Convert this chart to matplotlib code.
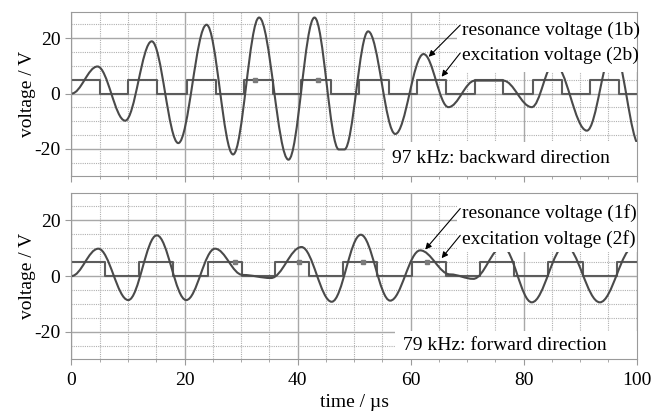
import matplotlib
matplotlib.use('Agg')
import matplotlib.pyplot as plt
from matplotlib.path import Path
from matplotlib.patches import PathPatch, Rectangle
from matplotlib.ticker import MultipleLocator

plt.rcParams['font.family'] = ['Liberation Serif', 'DejaVu Serif']
plt.rcParams['axes.unicode_minus'] = False

# ---------------- data ----------------
# 97 kHz backward: resonance voltage (1b) extrema / turning points (time in us, voltage in V)
res_b_t = [0.0, 4.6, 9.5, 14.2, 18.9, 23.9, 28.6, 33.2, 38.4, 43.0, 47.3, 48.3,
           52.5, 57.3, 62.3, 66.7, 71.4, 76.4, 81.45, 85.4, 91.2, 95.9, 100.6]
res_b_v = [0.0, 9.8, -9.8, 18.9, -17.9, 24.9, -22.0, 27.5, -23.9, 27.5, -20.2, -20.2,
           22.5, -14.6, 14.3, -4.9, 4.7, 4.7, -4.9, 11.0, -13.4, 16.5, -19.0]
# excitation voltage (2b): switching times and level after each switch
exc_b_t = [0.0, 0.0, 5.0, 10.05, 15.1, 20.4, 25.5, 30.6, 35.7, 40.7, 45.9, 50.9,
           56.1, 61.1, 66.3, 71.4, 76.4, 81.7, 86.8, 91.8, 96.8, 100.0]
exc_b_v = [0, 5, 0, 5, 0, 5, 0, 5, 0, 5, 0, 5, 0, 5, 0, 5, 0, 5, 0, 5, 0, 0]
mark_b_t = [32.5, 43.6]
mark_b_v = [5.0, 5.0]

# 79 kHz forward: resonance voltage (1f)
res_f_t = [0.0, 4.75, 10.05, 15.1, 20.3, 25.4, 30.3, 35.3, 40.7, 46.05, 51.2,
           56.4, 61.7, 67.0, 71.1, 76.3, 81.45, 87.35, 93.5, 99.5, 100.5]
res_f_v = [0.0, 9.8, -8.6, 14.6, -8.6, 9.8, 0.4, -0.7, 10.4, -9.2, 14.8,
           -8.8, 9.2, 0.6, -1.0, 10.5, -9.4, 11.0, -9.4, 10.5, 10.3]
# excitation voltage (2f)
exc_f_t = [0.0, 0.0, 5.93, 11.95, 18.0, 24.1, 30.1, 36.0, 42.1, 48.1, 54.0,
           60.2, 66.3, 72.3, 78.3, 84.4, 90.5, 96.5, 100.0]
exc_f_v = [0, 5, 0, 5, 0, 5, 0, 5, 0, 5, 0, 5, 0, 5, 0, 5, 0, 5, 5]
mark_f_t = [28.9, 40.3, 51.5, 62.9]
mark_f_v = [5.0, 5.0, 5.0, 5.0]

x_ticks = [0, 20, 40, 60, 80, 100]
y_ticks = [-20, 0, 20]

RES_COLOR = '#4a4a4a'
EXC_COLOR = '#5c5c5c'


def smooth_path(ts, vs, k=0.3634):
    verts = [(ts[0], vs[0])]
    codes = [Path.MOVETO]
    for i in range(1, len(ts)):
        t0, v0, t1, v1 = ts[i - 1], vs[i - 1], ts[i], vs[i]
        dt = t1 - t0
        verts += [(t0 + k * dt, v0), (t1 - k * dt, v1), (t1, v1)]
        codes += [Path.CURVE4] * 3
    return Path(verts, codes)


def setup(ax, show_labels):
    ax.set_xlim(0, 100)
    ax.set_ylim(-29.7, 29.6)
    ax.set_xticks(x_ticks)
    ax.set_yticks(y_ticks)
    ax.xaxis.set_minor_locator(MultipleLocator(5))
    ax.yaxis.set_minor_locator(MultipleLocator(5))
    ax.grid(which='major', color='#a8a8a8', lw=1.0, ls='-')
    ax.grid(which='minor', color='#b0b0b0', lw=0.8, ls=(0, (1, 1)))
    ax.set_axisbelow(True)
    ax.tick_params(axis='y', which='minor', length=0)
    ax.tick_params(axis='x', which='minor', length=2.5, color='#9a9a9a')
    ax.tick_params(which='major', length=4, color='#9a9a9a', labelsize=14)
    ax.tick_params(axis='y', pad=4)
    ax.tick_params(axis='x', pad=5)
    if not show_labels:
        ax.tick_params(axis='x', labelbottom=False)
    for s in ax.spines.values():
        s.set_color('#9a9a9a')
        s.set_zorder(6)
    ax.set_ylabel('voltage / V', fontsize=14, labelpad=-1)


fig = plt.figure(figsize=(6.68, 4.12), dpi=100)
ax1 = fig.add_axes([0.107, 0.5735, 0.846, 0.398])
ax2 = fig.add_axes([0.107, 0.1286, 0.846, 0.402])

panels = [
    (ax1, res_b_t, res_b_v, exc_b_t, exc_b_v, mark_b_t, mark_b_v,
     '97 kHz: backward direction', '(1b)', '(2b)', False),
    (ax2, res_f_t, res_f_v, exc_f_t, exc_f_v, mark_f_t, mark_f_v,
     '79 kHz: forward direction', '(1f)', '(2f)', True),
]

layout = {
    ax1: dict(box=(55.5, -17.6), dtext=(56.8, -23.3), lbox=(68.2, 7.8),
              rtext=23.0, etext=13.95,
              rarrow=((68.8, 24.8), (63.2, 13.3)), earrow=((68.8, 14.7), (65.5, 6.1))),
    ax2: dict(box=(57.3, -19.6), dtext=(58.7, -25.0), lbox=(68.2, 8.6),
              rtext=22.4, etext=13.4,
              rarrow=((68.8, 24.2), (62.6, 9.5)), earrow=((68.8, 14.6), (65.5, 6.4))),
}

for ax, rt, rv, et, ev, mt, mv, dtxt, rlab, elab, show in panels:
    setup(ax, show)
    ax.step(et, ev, where='post', color=EXC_COLOR, lw=1.5, zorder=3)
    ax.add_patch(PathPatch(smooth_path(rt, rv), fill=False, edgecolor=RES_COLOR,
                           lw=1.5, zorder=4))
    ax.plot(mt, mv, ls='none', marker='s', ms=3, color='#7a7a7a', zorder=4)
    L = layout[ax]
    y0 = ax.get_ylim()[0]
    y1 = ax.get_ylim()[1]
    bx, by = L['box']
    ax.add_patch(Rectangle((bx, y0), 100 - bx, by - y0, facecolor='white',
                           edgecolor='none', zorder=5))
    ax.text(L['dtext'][0], L['dtext'][1], dtxt, fontsize=14, ha='left', va='center',
            zorder=7)
    lx, ly = L['lbox']
    ax.add_patch(Rectangle((lx, ly), 100 - lx, y1 - ly, facecolor='white',
                           edgecolor='none', zorder=5))
    ax.text(69.1, L['rtext'], 'resonance voltage ' + rlab, fontsize=14, ha='left',
            va='center', zorder=7, clip_on=False)
    ax.text(69.1, L['etext'], 'excitation voltage ' + elab, fontsize=14, ha='left',
            va='center', zorder=7, clip_on=False)
    for tail, head in (L['rarrow'], L['earrow']):
        ax.annotate('', xy=head, xytext=tail,
                    arrowprops=dict(arrowstyle='-|>', color='black', lw=0.8,
                                    shrinkA=0, shrinkB=0, mutation_scale=9),
                    zorder=8)

ax2.set_xlabel('time / \u00b5s', fontsize=14, labelpad=4)

fig.savefig('out.png', dpi=100)
